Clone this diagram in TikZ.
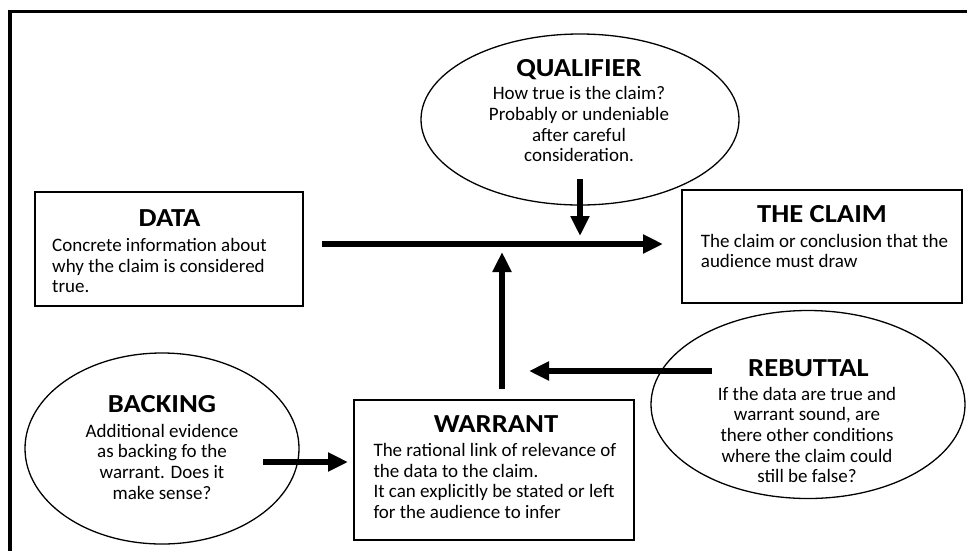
\documentclass[tikz,border=0pt]{standalone}
\usepackage{fontspec}
\setmainfont{Carlito}
\newfontfamily\headfont{Carlito}[FakeStretch=1.1]
\usetikzlibrary{arrows.meta,shapes.geometric}

\tikzset{
  outerframe/.style={line width=3.5pt},
  box/.style={draw, rectangle, line width=2.8pt, inner sep=0pt},
  oval/.style={draw, ellipse, line width=1.3pt, inner sep=0pt},
  heading/.style={font=\headfont\fontsize{26}{30}\selectfont\bfseries, inner sep=0pt, anchor=base},
  % multi-line texts are placed by the baseline of their last line
  bodyleft/.style={font=\fontsize{19}{20.6}\selectfont, inner sep=0pt, align=left, anchor=base west},
  bodymid/.style={font=\fontsize{19}{20.6}\selectfont, inner sep=0pt, align=center, anchor=base},
  flow/.style={line width=6pt, -{Triangle[length=20pt,width=18pt]}}
}

\begin{document}
\begin{tikzpicture}[x=1pt,y=-1pt]
\useasboundingbox (0,0) rectangle (967,550);

% page frame (left and top edges)
\draw[outerframe] (10,552) -- (10,11.5) -- (969,11.5);

% ellipses
\node[oval, minimum width=318pt, minimum height=171pt] (qualifier) at (580,119.5) {};
\node[oval, minimum width=274pt, minimum height=191pt] (backing) at (162,448.5) {};
\node[oval, minimum width=314pt, minimum height=188pt] (rebuttal) at (808,404.5) {};

% boxes
\node[box, minimum width=268pt, minimum height=114pt] (data) at (169,249) {};
\node[box, minimum width=280pt, minimum height=113pt] (claim) at (822,246.5) {};
\node[box, minimum width=280pt, minimum height=140pt] (warrant) at (494,470) {};

% texts
\node[heading] (datahead) at (169.5,226.7) {DATA};
\node[bodyleft] (databody) at (52,292.7) {Concrete information about\\why the claim is considered\\true.};

\node[heading] (claimhead) at (822,222.7) {THE CLAIM};
\node[bodyleft] (claimbody) at (700.7,267.7) {The claim or conclusion that the\\audience must draw};

\node[heading] (qualhead) at (579,76.7) {QUALIFIER};
\node[bodymid] (qualbody) at (579,161.7) {How true is the claim?\\Probably or undeniable\\after careful\\consideration.};

\node[heading] (warhead) at (496,432.3) {WARRANT};
\node[bodyleft] (warbody) at (373.3,518.3) {The rational link of relevance of\\the data to the claim.\\It can explicitly be stated or left\\for the audience to infer};

\node[heading] (backhead) at (162,412.7) {BACKING};
\node[bodymid] (backbody) at (162,499) {Additional evidence\\as backing fo the\\warrant. Does it\\make sense?};

\node[heading] (rebhead) at (808.5,376) {REBUTTAL};
\node[bodymid] (rebbody) at (807,482.7) {If the data are true and\\warrant sound, are\\there other conditions\\where the claim could\\still be false?};

% connector end points
\coordinate (dataout) at (322,244);
\coordinate (claimin) at (663,244);
\coordinate (qualout) at (580,179);
\coordinate (qualin) at (580,236);
\coordinate (warout) at (502,389);
\coordinate (warin) at (502,252);
\coordinate (rebout) at (712,371);
\coordinate (rebin) at (529,371);
\coordinate (backout) at (263,462);
\coordinate (backin) at (348,462);

% arrows
\draw[flow] (dataout) -- (claimin);
\draw[flow] (qualout) -- (qualin);
\draw[flow] (warout) -- (warin);
\draw[flow] (rebout) -- (rebin);
\draw[flow] (backout) -- (backin);
\end{tikzpicture}
\end{document}
